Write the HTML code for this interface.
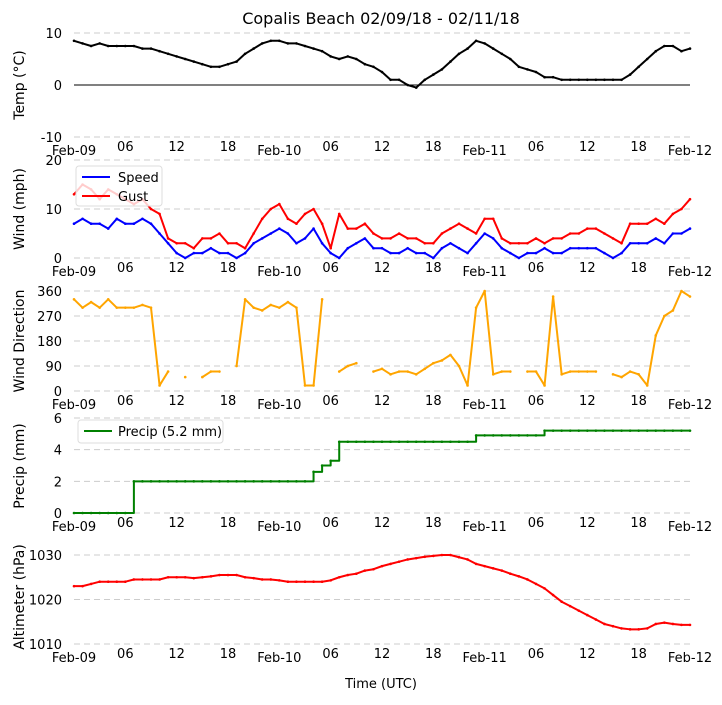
<!DOCTYPE html>
<html><head><meta charset="utf-8"><style>
body{margin:0;background:#fff;font-family:"Liberation Sans","DejaVu Sans",sans-serif;}
svg text{font-family:"DejaVu Sans","Liberation Sans",sans-serif;}
</style></head><body>
<svg id="c" width="722" height="700" xmlns="http://www.w3.org/2000/svg">
<text x="381" y="24" text-anchor="middle" font-size="16">Copalis Beach 02/09/18 - 02/11/18</text>
<text x="381" y="688" text-anchor="middle" font-size="13">Time (UTC)</text>
</svg>
<script>
const xTickLabels=["Feb-09","06","12","18","Feb-10","06","12","18","Feb-11","06","12","18","Feb-12"];
const temp=[8.5,8,7.5,8,7.5,7.5,7.5,7.5,7,7, 6.5,6,5.5,5,4.5,4,3.5,3.5,4,4.5, 6,7,8,8.5,8.5,8,8,7.5,7,6.5, 5.5,5,5.5,5,4,3.5,2.5,1,1,0, -0.5,1,2,3,4.5,6,7,8.5,8,7, 6,5,3.5,3,2.5,1.5,1.5,1,1,1, 1,1,1,1,1,2,3.5,5,6.5,7.5, 7.5,6.5,7];
const speed=[7,8,7,7,6,8,7,7,8,7, 5,3,1,0,1,1,2,1,1,0, 1,3,4,5,6,5,3,4,6,3, 1,0,2,3,4,2,2,1,1,2, 1,1,0,2,3,2,1,3,5,4, 2,1,0,1,1,2,1,1,2,2, 2,2,1,0,1,3,3,3,4,3, 5,5,6];
const gust=[13,15,14,12,14,13,12,11,12,10, 9,4,3,3,2,4,4,5,3,3, 2,5,8,10,11,8,7,9,10,7, 2,9,6,6,7,5,4,4,5,4, 4,3,3,5,6,7,6,5,8,8, 4,3,3,3,4,3,4,4,5,5, 6,6,5,4,3,7,7,7,8,7, 9,10,12];
const dir=[330,300,320,300,330,300,300,300,310,300, 20,70,null,50,null,50,70,70,null,90, 330,300,290,310,300,320,300,20,20,330, null,70,90,100,null,70,80,60,70,70, 60,80,100,110,130,90,20,300,360,60, 70,70,null,70,70,20,340,60,70,70, 70,70,null,60,50,70,60,20,200,270, 290,360,340];
const precip=[0,0,0,0,0,0,0,2,2,2, 2,2,2,2,2,2,2,2,2,2, 2,2,2,2,2,2,2,2,2.6,3.0, 3.3,4.5,4.5,4.5,4.5,4.5,4.5,4.5,4.5,4.5, 4.5,4.5,4.5,4.5,4.5,4.5,4.5,4.9,4.9,4.9, 4.9,4.9,4.9,4.9,4.9,5.2,5.2,5.2,5.2,5.2, 5.2,5.2,5.2,5.2,5.2,5.2,5.2,5.2,5.2,5.2, 5.2,5.2,5.2];
const alt=[1023,1023,1023.5,1024,1024,1024,1024,1024.5,1024.5,1024.5, 1024.5,1025,1025,1025,1024.8,1025,1025.2,1025.5,1025.5,1025.5, 1025,1024.8,1024.5,1024.5,1024.3,1024,1024,1024,1024,1024, 1024.3,1025,1025.5,1025.8,1026.5,1026.8,1027.5,1028,1028.5,1029, 1029.3,1029.6,1029.8,1030,1030,1029.5,1029,1028,1027.5,1027, 1026.5,1025.8,1025.2,1024.5,1023.5,1022.5,1021,1019.5,1018.5,1017.5, 1016.5,1015.5,1014.5,1014,1013.5,1013.3,1013.3,1013.5,1014.5,1014.8, 1014.5,1014.3,1014.3];
const tempTicks=[-10,0,10], windTicks=[0,10,20], dirTicks=[0,90,180,270,360], precipTicks=[0,2,4,6], altTicks=[1010,1020,1030];

const svg=document.getElementById('c');
const NS='http://www.w3.org/2000/svg';
const X0=74,X1=690;
const xs=h=>X0+(X1-X0)*h/72;
function mk(tag,attrs,parent){const e=document.createElementNS(NS,tag);for(const k in attrs)e.setAttribute(k,attrs[k]);(parent||svg).appendChild(e);return e;}

function panel(name,yTop,yBot,vMin,vMax,ticks,label,labelY){
  const g=mk('g',{});
  
  
  const ys=v=>yBot-(v-vMin)/(vMax-vMin)*(yBot-yTop);
  ticks.forEach(t=>{
    const l=mk('line',{x1:X0,x2:X1,y1:ys(t),y2:ys(t),stroke:'#cccccc','stroke-width':1,'stroke-dasharray':'6,4'},g);
    
    
    const tx=mk('text',{x:X0-12,y:ys(t)+5,'text-anchor':'end','font-size':13},g);
    tx.textContent=t;
    
    
  });
  xTickLabels.forEach((s,i)=>{
    const isDate=s.indexOf('Feb')===0;
    const tx=mk('text',{x:xs(i*6),y:yBot+(isDate?18:14),'text-anchor':'middle','font-size':13},g);
    tx.textContent=s;
    
    
  });
  const cy=(yTop+yBot)/2;
  const yl=mk('text',{x:0,y:0,'text-anchor':'middle','font-size':14,transform:`translate(24,${labelY||cy}) rotate(-90)`},g);
  yl.textContent=label;
  
  
  return {g,ys};
}
function line(p,data,color,name,step){
  let d='',pen=false;
  data.forEach((v,i)=>{
    if(v===null){pen=false;return;}
    const x=xs(i),y=p.ys(v);
    if(!pen){d+=`M${x},${y}`;pen=true;}
    else if(step){d+=`L${x},${p.ys(data[i-1])}L${x},${y}`;}
    else d+=`L${x},${y}`;
  });
  const e=mk('path',{d,fill:'none',stroke:color,'stroke-width':2,'stroke-linejoin':'round'},p.g);
  
  
  data.forEach((v,i)=>{
    if(v===null)return;
    const c=mk('circle',{cx:xs(i),cy:p.ys(v),r:1.3,fill:color},p.g);
    
    
  });
}
// Temp
const p1=panel('temp',33,137,-10,10,tempTicks,'Temp ($^{\\circ}$C)'.replace('$^{\\circ}$','°'));
const z=mk('line',{x1:X0,x2:X1,y1:p1.ys(0),y2:p1.ys(0),stroke:'#000','stroke-width':1},p1.g);


line(p1,temp,'#000','temp');
// Wind
const p2=panel('wind',160,258,0,20,windTicks,'Wind (mph)',209);
line(p2,gust,'#ff0000','gust');
line(p2,speed,'#0000ff','speed');
const lg=mk('g',{},p2.g);


mk('rect',{x:76,y:166,width:86,height:40,fill:'rgba(255,255,255,0.8)',stroke:'#dddddd',rx:3},lg);
mk('line',{x1:82,x2:110,y1:177,y2:177,stroke:'#0000ff','stroke-width':2},lg);
mk('line',{x1:82,x2:110,y1:196,y2:196,stroke:'#ff0000','stroke-width':2},lg);
let t=mk('text',{x:118,y:182,'font-size':13},lg);t.textContent='Speed';


t=mk('text',{x:118,y:201,'font-size':13},lg);t.textContent='Gust';


// Direction
const p3=panel('direction',291,391,0,360,dirTicks,'Wind Direction',341);
line(p3,dir,'#ffa500','direction');
// Precip
const p4=panel('precip',418,513,0,6,precipTicks,'Precip (mm)',466);
line(p4,precip,'#008000','precip',true);
const lg2=mk('g',{},p4.g);


mk('rect',{x:78,y:420,width:145,height:23,fill:'rgba(255,255,255,0.8)',stroke:'#dddddd',rx:3},lg2);
mk('line',{x1:84,x2:112,y1:431,y2:431,stroke:'#008000','stroke-width':2},lg2);
t=mk('text',{x:118,y:436,'font-size':13},lg2);t.textContent='Precip (5.2 mm)';


// Altimeter
const p5=panel('altimeter',555,644,1010,1030,altTicks,'Altimeter (hPa)',597);
line(p5,alt,'#ff0000','altimeter');
</script>
</body></html>
